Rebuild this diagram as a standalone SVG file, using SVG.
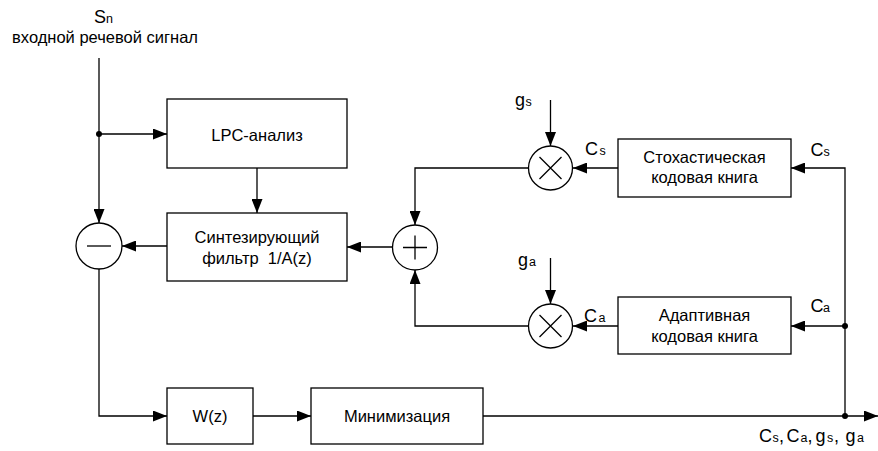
<svg xmlns="http://www.w3.org/2000/svg" width="878" height="451" viewBox="0 0 878 451">
<style>
.b{fill:#fff;stroke:#000;stroke-width:1.3}
.c{fill:#fff;stroke:#000;stroke-width:1.3}
.l{fill:none;stroke:#000;stroke-width:1.3}
.a{fill:none;stroke:#000;stroke-width:1.3;marker-end:url(#ah)}
.t{font-family:"Liberation Sans",Arial,sans-serif;font-size:16.5px;fill:#000;text-anchor:middle}
.lb{font-family:"Liberation Sans",Arial,sans-serif;font-size:18px;fill:#000}
.sm{font-size:12.5px}
.d{fill:#000}
</style>
<defs>
<marker id="ah" markerUnits="userSpaceOnUse" markerWidth="14" markerHeight="11" refX="14" refY="5.5" orient="auto">
<path d="M0,0 L14,5.5 L0,11 z" fill="#000"/>
</marker>
</defs>
<g id="connectors">
<path class="a" d="M99,58 V223"/>
<path class="a" d="M99,134 H167"/>
<path class="a" d="M257,168 V213"/>
<path class="a" d="M167,246 H122"/>
<path class="a" d="M99,269 V416 H167"/>
<path class="a" d="M253,416 H311"/>
<path class="a" d="M483,416 H878"/>
<path class="a" d="M845,416 V168 H791"/>
<path class="a" d="M845,326 H791"/>
<path class="a" d="M618,168 H573"/>
<path class="a" d="M618,326 H573"/>
<path class="a" d="M550.5,100 V146"/>
<path class="a" d="M550.5,258 V304"/>
<path class="a" d="M528,168 H415 V225"/>
<path class="a" d="M528,326 H415 V270"/>
<path class="a" d="M393,247 H347"/>
<circle class="d" cx="99" cy="134" r="3"/>
<circle class="d" cx="845" cy="326" r="3"/>
<circle class="d" cx="845" cy="416" r="3"/>
</g>
<g id="input">
<text class="lb" x="94" y="23">S<tspan class="sm" x="106">n</tspan></text>
<text class="t" x="105" y="43">входной речевой сигнал</text>
</g>
<g id="lpc">
<rect class="b" x="167" y="99" width="180" height="69"/>
<text class="t" x="257" y="141">LPC-анализ</text>
</g>
<g id="synth">
<rect class="b" x="167" y="213" width="180" height="68"/>
<text class="t" x="257" y="243">Синтезирующий</text>
<text class="t" x="257" y="264" xml:space="preserve">фильтр  1/A(z)</text>
</g>
<g id="minus">
<circle class="c" cx="99" cy="246" r="23"/>
<path class="l" d="M87,246 H111"/>
</g>
<g id="plus">
<circle class="c" cx="415" cy="247.5" r="22.5"/>
<path class="l" d="M403,247.5 H427 M415,235.5 V259.5"/>
</g>
<g id="mult-s">
<circle class="c" cx="550.5" cy="168" r="22"/>
<path class="l" d="M539.5,157 L561.5,179 M561.5,157 L539.5,179"/>
<text class="lb" x="515" y="106">g<tspan class="sm" x="525.5">s</tspan></text>
<text class="lb" x="585" y="155">C<tspan class="sm" x="599.5">s</tspan></text>
</g>
<g id="mult-a">
<circle class="c" cx="550.5" cy="326" r="22"/>
<path class="l" d="M539.5,315 L561.5,337 M561.5,315 L539.5,337"/>
<text class="lb" x="518" y="266">g<tspan class="sm" x="529">a</tspan></text>
<text class="lb" x="584" y="322">C<tspan class="sm" x="598.5">a</tspan></text>
</g>
<g id="stoch">
<rect class="b" x="618" y="139" width="173" height="58"/>
<text class="t" x="704.5" y="163">Стохастическая</text>
<text class="t" x="704.5" y="183">кодовая книга</text>
<text class="lb" x="810.5" y="156">C<tspan class="sm" x="823.5">s</tspan></text>
</g>
<g id="adapt">
<rect class="b" x="618" y="297" width="173" height="57"/>
<text class="t" x="704.5" y="321">Адаптивная</text>
<text class="t" x="704.5" y="342">кодовая книга</text>
<text class="lb" x="810.5" y="312">C<tspan class="sm" x="823">a</tspan></text>
</g>
<g id="wz">
<rect class="b" x="167" y="388" width="86" height="56"/>
<text class="t" x="210" y="422">W(z)</text>
</g>
<g id="min">
<rect class="b" x="311" y="388" width="172" height="56"/>
<text class="t" x="397" y="422">Минимизация</text>
</g>
<g id="out">
<text class="lb" x="759" y="442">C<tspan class="sm" x="772.5">s</tspan><tspan x="779">,</tspan><tspan x="786.5">C</tspan><tspan class="sm" x="800.5">a</tspan><tspan x="807.5">,</tspan><tspan x="815.5">g</tspan><tspan class="sm" x="827">s</tspan><tspan x="834">,</tspan><tspan x="845.5">g</tspan><tspan class="sm" x="857">a</tspan></text>
</g>
</svg>
